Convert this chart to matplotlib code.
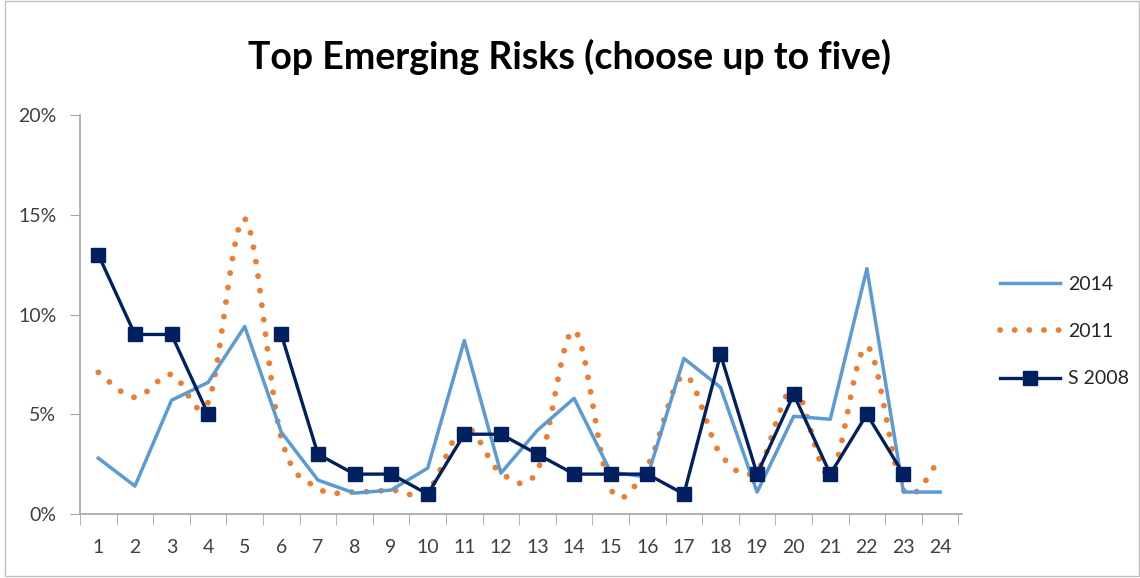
import numpy as np
import matplotlib
matplotlib.use("Agg")
import matplotlib.pyplot as plt
from matplotlib.patches import Rectangle

categories = list(range(1, 25))
s2014 = [2.8, 1.4, 5.7, 6.6, 9.4, 4.1, 1.7, 1.05, 1.2, 2.3, 8.7, 2.05, 4.2, 5.8,
         2.1, 1.85, 7.8, 6.35, 1.1, 4.9, 4.75, 12.3, 1.1, 1.1]
s2011 = [7.1, 5.85, 7.0, 5.6, 14.8, 3.8, 1.3, 1.1, 1.2, 1.15, 4.35, 2.05, 2.2, 9.2,
         1.25, 2.4, 6.95, 3.0, 2.2, 6.3, 1.95, 8.4, 1.2, 2.8]
s2008 = [13, 9, 9, 5, np.nan, 9, 3, 2, 2, 1, 4, 4, 3, 2, 2, 2, 1, 8, 2, 6, 2, 5, 2, np.nan]
yticks = [0, 5, 10, 15, 20]
ytick_labels = ["0%", "5%", "10%", "15%", "20%"]

C_BLUE = "#5B9BD5"
C_ORANGE = "#ED7D31"
C_NAVY = "#002060"
FONT = "Lato"


def smooth(xs, ys, n=30, t=0.5):
    """Cardinal (Catmull-Rom) spline rendering of a line, like Excel's smoothed line."""
    xs = np.asarray(xs, float)
    ys = np.asarray(ys, float)
    px = np.concatenate([[xs[0]], xs, [xs[-1]]])
    py = np.concatenate([[ys[0]], ys, [ys[-1]]])
    outx, outy = [], []
    for i in range(1, len(px) - 2):
        p0 = np.array([px[i - 1], py[i - 1]])
        p1 = np.array([px[i], py[i]])
        p2 = np.array([px[i + 1], py[i + 1]])
        p3 = np.array([px[i + 2], py[i + 2]])
        c1 = p1 + (p2 - p0) * t / 3
        c2 = p2 - (p3 - p1) * t / 3
        u = np.linspace(0, 1, n, endpoint=(i == len(px) - 3))
        b = ((1 - u) ** 3)[:, None] * p1 + (3 * (1 - u) ** 2 * u)[:, None] * c1 \
            + (3 * (1 - u) * u ** 2)[:, None] * c2 + (u ** 3)[:, None] * p2
        outx.extend(b[:, 0])
        outy.extend(b[:, 1])
    return np.array(outx), np.array(outy)


fig = plt.figure(figsize=(11.4, 5.78), dpi=100)
fig.patches.append(Rectangle((0.004, 0.003), 0.995, 0.995, transform=fig.transFigure,
                             fill=False, edgecolor="#BFBFBF", linewidth=1))
ax = fig.add_axes([0.0702, 0.1107, 0.7737, 0.6903])

l1, = ax.plot(categories, s2014, color=C_BLUE, linewidth=2.5, label="2014", zorder=3)
sx, sy = smooth(categories, s2011)
l2, = ax.plot(sx, sy, color=C_ORANGE, linewidth=4.2, linestyle=(0, (0.01, 2.5)),
              dash_capstyle="round", label="2011", zorder=2)
l3, = ax.plot(categories, s2008, color=C_NAVY, linewidth=2.4, marker="s",
              markersize=10, label="S 2008", zorder=4)

ax.set_xlim(0.5, 24.6)
ax.set_ylim(0, 20)
ax.set_yticks(yticks)
ax.set_yticklabels(ytick_labels)
ax.set_xticks(categories)
ax.set_xticklabels([str(c) for c in categories])
ax.set_xticks(np.arange(0.5, 25, 1), minor=True)
ax.tick_params(axis="x", which="major", length=0, pad=18)
ax.tick_params(axis="x", which="minor", length=8, color="#A6A6A6", direction="out")
ax.tick_params(axis="y", length=7, color="#A6A6A6", direction="out", pad=10)
for lab in ax.get_xticklabels() + ax.get_yticklabels():
    lab.set_fontfamily(FONT)
    lab.set_fontsize(14)
    lab.set_color("#404040")
for sp in ["top", "right"]:
    ax.spines[sp].set_visible(False)
for sp in ["left", "bottom"]:
    ax.spines[sp].set_color("#A6A6A6")
    ax.spines[sp].set_linewidth(1.2)

fig.text(0.5, 0.902, "Top Emerging Risks (choose up to five)", ha="center", va="center",
         fontsize=27, fontweight="bold", fontfamily=FONT, color="black")

leg = fig.legend(handles=[l1, l2, l3], loc="center left", bbox_to_anchor=(0.862, 0.426),
                 frameon=False, handlelength=3.1, labelspacing=1.55, handletextpad=0.4,
                 prop={"family": FONT, "size": 14})
for t in leg.get_texts():
    t.set_color("#262626")

fig.savefig("out.png", dpi=100)
